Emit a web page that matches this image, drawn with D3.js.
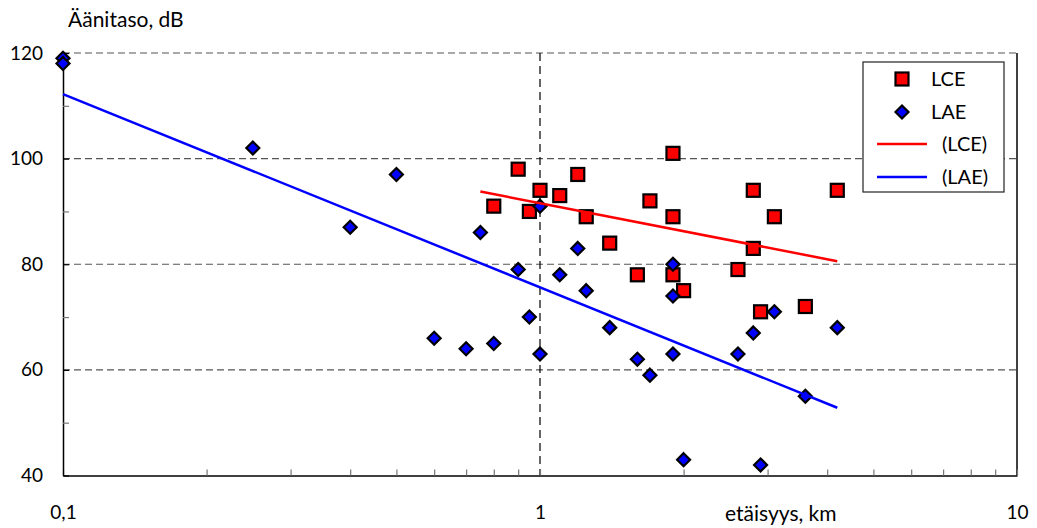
<!DOCTYPE html>
<html>
<head>
<meta charset="utf-8">
<script src="https://cdn.jsdelivr.net/npm/d3@7/dist/d3.min.js"></script>
<style>
  html, body { margin: 0; padding: 0; background: #fff; }
  svg { display: block; font-family: Lato, "Open Sans", sans-serif; }
</style>
</head>
<body>
<svg id="chart" width="1037" height="528"></svg>
<script>
// ---- Data ----
const lceDistance = [0.8, 0.9, 0.95, 1.0, 1.1, 1.2, 1.25, 1.4, 1.6, 1.7, 1.9, 1.9, 1.9, 2.0, 2.6, 2.8, 2.8, 2.9, 3.1, 3.6, 4.2];
const lceLevel    = [91, 98, 90, 94, 93, 97, 89, 84, 78, 92, 101, 89, 78, 75, 79, 94, 83, 71, 89, 72, 94];
const laeDistance = [0.1, 0.1, 0.25, 0.4, 0.5, 0.6, 0.7, 0.75, 0.8, 0.9, 0.95, 1.0, 1.0, 1.1, 1.2, 1.25, 1.4, 1.6, 1.7, 1.9, 1.9, 1.9, 2.0, 2.6, 2.8, 2.9, 3.1, 3.6, 4.2];
const laeLevel    = [119, 118, 102, 87, 97, 66, 64, 86, 65, 79, 70, 91, 63, 78, 83, 75, 68, 62, 59, 80, 74, 63, 43, 63, 67, 42, 71, 55, 68];
const lceTrendRange = [0.75, 4.2];
const laeTrendRange = [0.1, 4.2];
const xDomain = [0.1, 10];
const yDomain = [40, 120];
const yTickValues = [40, 50, 60, 70, 80, 90, 100, 110, 120];
const yLabelValues = [40, 60, 80, 100, 120];
const yGridValues = [60, 80, 100, 120];
const xGridValues = [1];
const xLabelValues = [0.1, 1, 10];
const legendLabels = ["LCE", "LAE", "(LCE)", "(LAE)"];
const yTitle = "Äänitaso, dB";
const xTitle = "etäisyys, km";

// ---- Layout ----
const plot = { left: 63, right: 1017, top: 53, bottom: 475.5 };
const svg = d3.select("#chart");

const x = d3.scaleLog().domain(xDomain).range([plot.left, plot.right]);
const y = d3.scaleLinear().domain(yDomain).range([plot.bottom, plot.top]);

const fi = d3.formatLocale({ decimal: ",", thousands: " ", grouping: [3], currency: ["", ""] });
const fmt = fi.format("~g");

// Gridlines
svg.append("g").selectAll("line").data(yGridValues).join("line")
  .attr("x1", plot.left).attr("x2", plot.right)
  .attr("y1", d => y(d)).attr("y2", d => y(d))
  .attr("stroke", "#555").attr("stroke-width", 1.2).attr("stroke-dasharray", "7,4");
svg.append("g").selectAll("line").data(xGridValues).join("line")
  .attr("x1", d => x(d)).attr("x2", d => x(d))
  .attr("y1", plot.top).attr("y2", plot.bottom)
  .attr("stroke", "#000").attr("stroke-width", 1.2).attr("stroke-dasharray", "8,5");

// Right border
svg.append("line").attr("x1", plot.right).attr("x2", plot.right)
  .attr("y1", plot.top).attr("y2", plot.bottom).attr("stroke", "#000").attr("stroke-width", 1.5);

// X axis
const xTicks = x.ticks();
const xAxis = d3.axisBottom(x).tickValues(xTicks).tickSizeInner(-6).tickSizeOuter(0)
  .tickPadding(30)
  .tickFormat(d => xLabelValues.some(v => Math.abs(v - d) < 1e-9) ? fmt(d) : "");
const gx = svg.append("g").attr("transform", `translate(0,${plot.bottom})`).call(xAxis);
gx.select(".domain").attr("stroke", "#000").attr("stroke-width", 1.5);
gx.selectAll(".tick line").attr("stroke", "#777").attr("stroke-width", 1.2);
gx.selectAll(".tick text").attr("font-size", 19).attr("fill", "#000").attr("font-family", "Lato, sans-serif");

// Y axis
const yAxis = d3.axisLeft(y).tickValues(yTickValues).tickSizeInner(-6).tickSizeOuter(0)
  .tickPadding(20)
  .tickFormat(d => yLabelValues.includes(d) ? fmt(d) : "");
const gy = svg.append("g").attr("transform", `translate(${plot.left},0)`).call(yAxis);
gy.select(".domain").attr("stroke", "#000").attr("stroke-width", 1.5);
gy.selectAll(".tick line").attr("stroke", d => yLabelValues.includes(d) ? "#000" : "#777").attr("stroke-width", 1.2);
gy.selectAll(".tick text").attr("font-size", 19).attr("fill", "#000").attr("font-family", "Lato, sans-serif");

// Titles
svg.append("text").attr("x", 68).attr("y", 27).attr("font-size", 21).text(yTitle);
svg.append("text").attr("x", 725).attr("y", 521).attr("font-size", 21).text(xTitle);

// Markers
const lce = lceDistance.map((d, i) => ({ x: d, y: lceLevel[i] }));
const lae = laeDistance.map((d, i) => ({ x: d, y: laeLevel[i] }));
const sq = 13;
svg.append("g").selectAll("rect").data(lce).join("rect")
  .attr("x", d => x(d.x) - sq / 2).attr("y", d => y(d.y) - sq / 2)
  .attr("width", sq).attr("height", sq)
  .attr("fill", "#ff0000").attr("stroke", "#000").attr("stroke-width", 2.2);
const dm = 6.5;
const diamond = `M0,${-dm}L${dm},0L0,${dm}L${-dm},0Z`;
svg.append("g").selectAll("path").data(lae).join("path")
  .attr("transform", d => `translate(${x(d.x)},${y(d.y)})`)
  .attr("d", diamond)
  .attr("fill", "#0000ff").attr("stroke", "#000").attr("stroke-width", 2.2).attr("stroke-linejoin", "miter");

// Log trend lines (least squares on log10 distance)
function fit(pts) {
  const L = pts.map(p => Math.log10(p.x));
  const mL = d3.mean(L), mY = d3.mean(pts, p => p.y);
  let sxy = 0, sxx = 0;
  pts.forEach((p, i) => { sxy += (L[i] - mL) * (p.y - mY); sxx += (L[i] - mL) ** 2; });
  const b = sxy / sxx, a = mY - b * mL;
  return v => a + b * Math.log10(v);
}
const fLce = fit(lce), fLae = fit(lae);
const line = d3.line().x(d => x(d[0])).y(d => y(d[1]));
svg.append("path").attr("d", line(lceTrendRange.map(v => [v, fLce(v)])))
  .attr("stroke", "#ff0000").attr("stroke-width", 2.5).attr("fill", "none");
svg.append("path").attr("d", line(laeTrendRange.map(v => [v, fLae(v)])))
  .attr("stroke", "#0000ff").attr("stroke-width", 2.5).attr("fill", "none");

// Legend
const lg = svg.append("g");
lg.append("rect").attr("x", 863).attr("y", 62).attr("width", 141).attr("height", 130)
  .attr("fill", "#fff").attr("stroke", "#222").attr("stroke-width", 1.2);
const rowY = [79, 112, 144, 177];
lg.append("rect").attr("x", 902 - sq / 2).attr("y", rowY[0] - sq / 2).attr("width", sq).attr("height", sq)
  .attr("fill", "#ff0000").attr("stroke", "#000").attr("stroke-width", 2.2);
lg.append("path").attr("transform", `translate(902,${rowY[1]})`).attr("d", diamond)
  .attr("fill", "#0000ff").attr("stroke", "#000").attr("stroke-width", 2.2);
lg.append("line").attr("x1", 877).attr("x2", 927).attr("y1", rowY[2]).attr("y2", rowY[2])
  .attr("stroke", "#ff0000").attr("stroke-width", 2.5);
lg.append("line").attr("x1", 877).attr("x2", 927).attr("y1", rowY[3]).attr("y2", rowY[3])
  .attr("stroke", "#0000ff").attr("stroke-width", 2.5);
const textX = [931, 931, 942, 942];
legendLabels.forEach((t, i) => {
  lg.append("text").attr("x", textX[i]).attr("y", rowY[i]).attr("dy", "0.35em")
    .attr("font-size", 20).text(t);
});
</script>
</body>
</html>
